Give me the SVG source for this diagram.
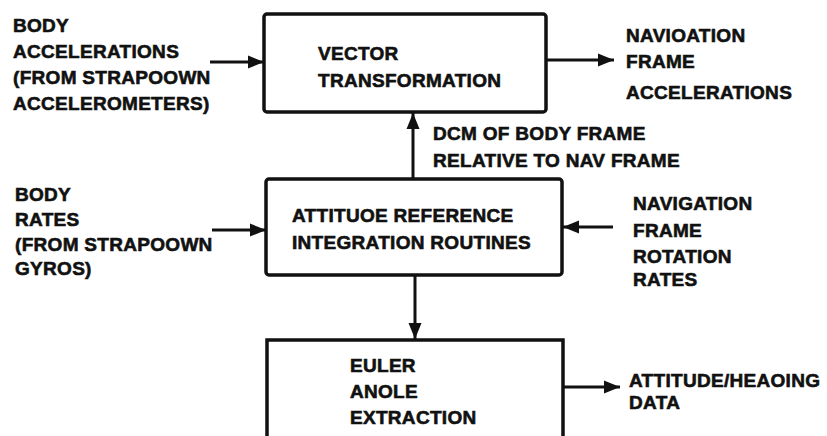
<svg xmlns="http://www.w3.org/2000/svg" width="827" height="436" viewBox="0 0 827 436">
<defs>
<marker id="ah" markerUnits="userSpaceOnUse" markerWidth="18" markerHeight="14" refX="16" refY="7" orient="auto">
<path d="M0,0.5 L16,7 L0,13.5 Z" fill="#111"/>
</marker>
<style>
text{font-family:"Liberation Sans",Arial,sans-serif;font-weight:bold;font-size:19px;fill:#111;stroke:#111;stroke-width:0.6;letter-spacing:0.3px}
.box{fill:none;stroke:#111;stroke-width:3.5}
.ln{fill:none;stroke:#111;stroke-width:3;marker-end:url(#ah)}
</style>
</defs>
<rect width="827" height="436" fill="#fff"/>
<g id="vector-transformation">
<rect class="box" x="264" y="14" width="282" height="98" rx="3"/>
<text x="318" y="60">VECTOR</text>
<text x="318" y="87">TRANSFORMATION</text>
</g>
<g id="attitude-reference">
<rect class="box" x="266" y="179" width="296" height="96" rx="3"/>
<text x="292" y="222">ATTITUOE REFERENCE</text>
<text x="292" y="249">INTEGRATION ROUTINES</text>
</g>
<g id="euler-angle">
<path class="box" d="M267,440 L267,340 L563,340 L563,440"/>
<text x="350" y="372">EULER</text>
<text x="350" y="398">ANOLE</text>
<text x="350" y="424">EXTRACTION</text>
</g>
<g id="body-accelerations">
<text x="13" y="32">BODY</text>
<text x="13" y="58">ACCELERATIONS</text>
<text x="13" y="84">(FROM STRAPOOWN</text>
<text x="13" y="110">ACCELEROMETERS)</text>
</g>
<g id="nav-frame-accelerations">
<text x="626" y="42">NAVIOATION</text>
<text x="626" y="68">FRAME</text>
<text x="626" y="99">ACCELERATIONS</text>
</g>
<g id="dcm-label">
<text x="433" y="140">DCM OF BODY FRAME</text>
<text x="433" y="167">RELATIVE TO NAV FRAME</text>
</g>
<g id="body-rates">
<text x="15" y="201">BODY</text>
<text x="15" y="226">RATES</text>
<text x="15" y="251">(FROM STRAPOOWN</text>
<text x="15" y="275">GYROS)</text>
</g>
<g id="nav-rotation-rates">
<text x="633" y="210">NAVIGATION</text>
<text x="633" y="237">FRAME</text>
<text x="633" y="263">ROTATION</text>
<text x="633" y="286">RATES</text>
</g>
<g id="attitude-heading">
<text x="629" y="387">ATTITUDE/HEAOING</text>
<text x="629" y="409">DATA</text>
</g>
<g id="connectors">
<line class="ln" x1="210" y1="62" x2="264" y2="62"/>
<line class="ln" x1="546" y1="60" x2="614" y2="60"/>
<line class="ln" x1="413" y1="179" x2="413" y2="113"/>
<line class="ln" x1="212" y1="230" x2="266" y2="230"/>
<line class="ln" x1="613" y1="227" x2="563" y2="227"/>
<line class="ln" x1="415" y1="275" x2="415" y2="339"/>
<line class="ln" x1="563" y1="387" x2="620" y2="387"/>
</g>
</svg>
